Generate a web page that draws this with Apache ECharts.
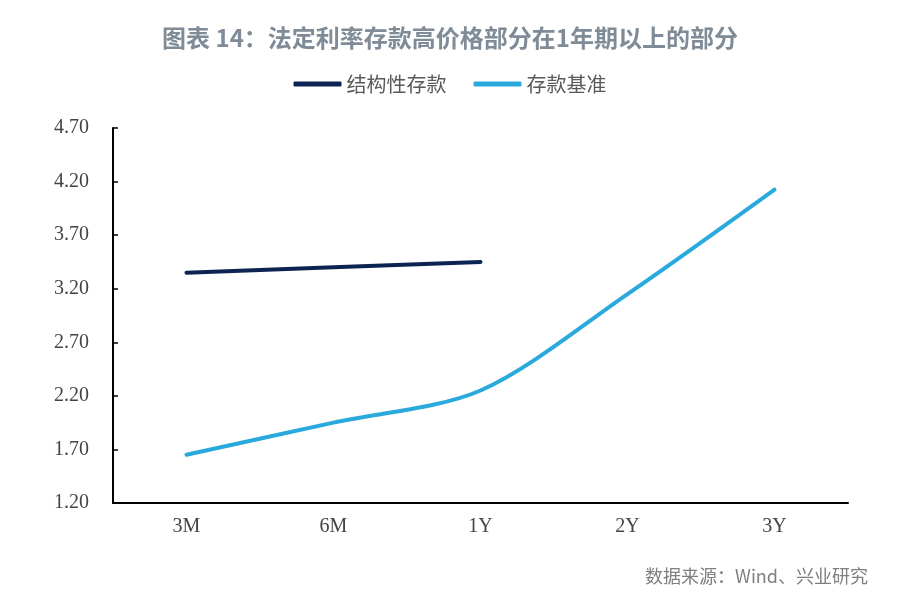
<!DOCTYPE html>
<html>
<head>
    <meta charset="utf-8">
    <title>图表 14</title>
    <style>
        html, body { margin: 0; padding: 0; background: #fff; }
        #container { width: 900px; height: 596px; }
    </style>
</head>
<body>
<div id="container"></div>
<script src="https://cdn.jsdelivr.net/npm/echarts@6/dist/echarts.min.js"></script>
<script>
    var categories = ["3M", "6M", "1Y", "2Y", "3Y"];
    var structuralDeposit = [3.35, 3.40, 3.45, null, null];
    var benchmarkDeposit = [1.65, 1.95, 2.25, 3.15, 4.125];

    var myChart = echarts.init(document.getElementById("container"));

    var option = {
        backgroundColor: '#fff',
        animation: false,
        title: [{
            text: '图表 14：法定利率存款高价格部分在1年期以上的部分',
            left: 'center',
            top: 21,
            textStyle: {
                fontFamily: 'Noto Sans CJK SC',
                fontSize: 24,
                fontWeight: 'bold',
                color: '#7f8b97'
            }
        }, {
            text: '数据来源：Wind、兴业研究',
            right: 27,
            top: 562,
            textStyle: {
                fontFamily: 'Noto Sans CJK SC',
                fontSize: 18,
                fontWeight: 'normal',
                color: '#7f7f7f'
            }
        }],
        legend: {
            top: 69,
            left: 'center',
            itemWidth: 48,
            itemHeight: 5,
            itemGap: 27,
            icon: 'roundRect',
            textStyle: {
                fontFamily: 'Noto Sans CJK SC',
                fontSize: 20,
                color: '#595959'
            },
            data: ['结构性存款', '存款基准']
        },
        grid: {
            left: 113,
            right: 52,
            top: 128,
            bottom: 93
        },
        xAxis: {
            type: 'category',
            data: categories,
            boundaryGap: true,
            axisLine: { lineStyle: { color: '#000', width: 2 } },
            axisTick: { inside: true, length: 6, lineStyle: { color: '#000', width: 1.5 } },
            axisLabel: {
                fontFamily: 'Liberation Serif',
                fontSize: 20,
                color: '#444',
                margin: 14
            }
        },
        yAxis: {
            type: 'value',
            min: 1.2,
            max: 4.7,
            interval: 0.5,
            splitLine: { show: false },
            axisLine: { show: true, lineStyle: { color: '#000', width: 2 } },
            axisTick: { show: true, inside: true, length: 5, lineStyle: { color: '#000', width: 1.5 } },
            axisLabel: {
                fontFamily: 'Liberation Serif',
                fontSize: 20,
                color: '#444',
                margin: 24,
                formatter: function (v) { return v.toFixed(2); }
            }
        },
        series: [{
            name: '结构性存款',
            type: 'line',
            data: structuralDeposit,
            symbol: 'none',
            lineStyle: { color: '#0c2452', width: 4, cap: 'round' },
            itemStyle: { color: '#0c2452' }
        }, {
            name: '存款基准',
            type: 'line',
            data: benchmarkDeposit,
            smooth: 0.3,
            symbol: 'none',
            lineStyle: { color: '#2aa9dd', width: 4, cap: 'round' },
            itemStyle: { color: '#2aa9dd' }
        }]
    };

    myChart.setOption(option);
</script>
</body>
</html>
